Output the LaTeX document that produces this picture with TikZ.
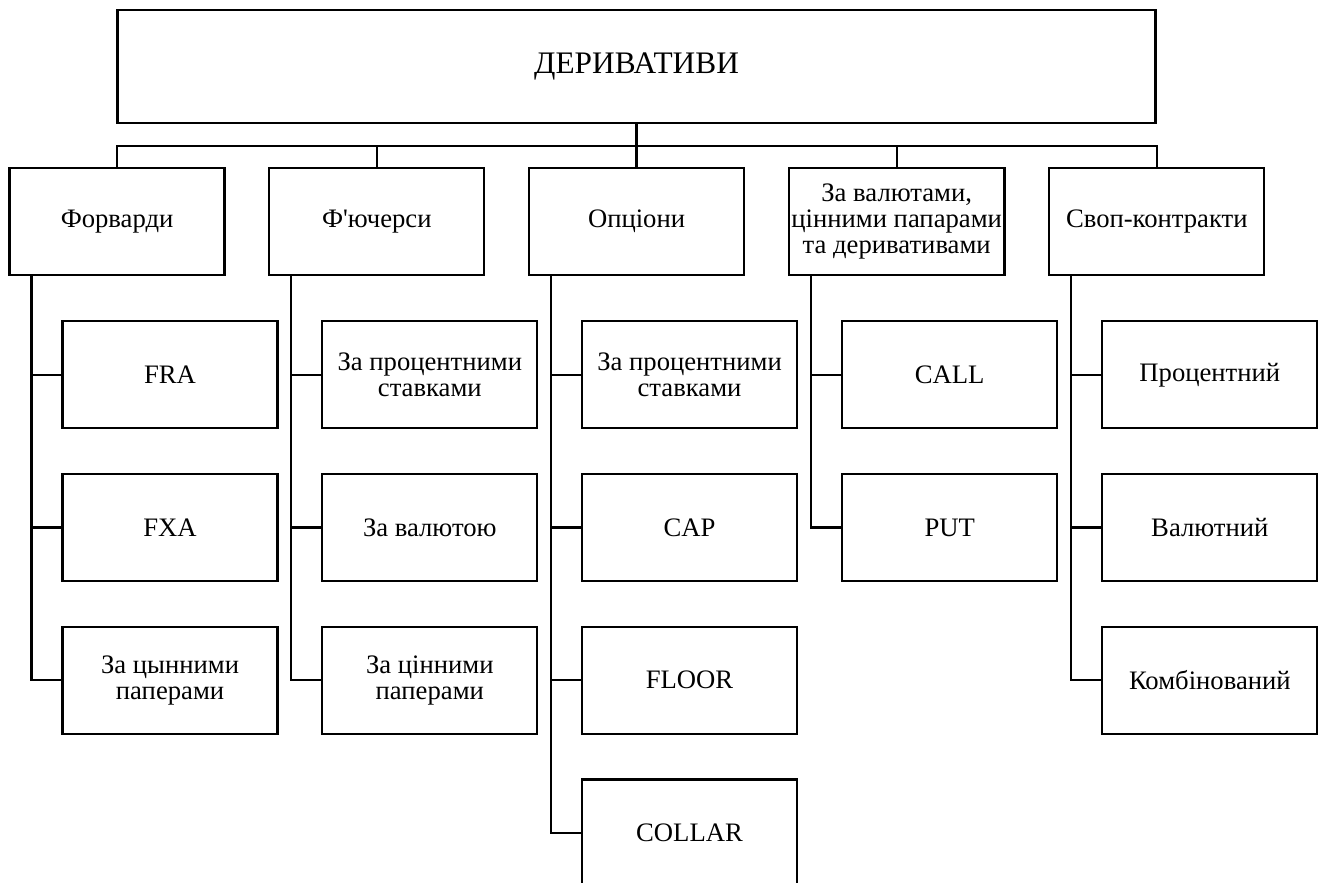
\documentclass[tikz,border=0pt]{standalone}
\usepackage{fontspec}
\setmainfont{Liberation Serif}[Ligatures=TeXOff]
\usetikzlibrary{positioning}

\begin{document}
\begin{tikzpicture}[
  box/.style={draw=black, line width=1.7pt, align=center, inner sep=2pt, font=\fontsize{20}{19.5}\selectfont},
  head/.style={box, minimum width=778.5pt, minimum height=84.75pt, font=\fontsize{23.5}{26}\selectfont},
  group/.style={box, minimum width=161.25pt, minimum height=80.25pt},
  item/.style={box, minimum width=161.25pt, minimum height=80.25pt},
  link/.style={line width=1.7pt}
]
\clip (0,0) rectangle (992.25pt,-661.5pt);

% Top
\node[head] (deriv) at (477.4pt,-49.9pt) {ДЕРИВАТИВИ};

% Row 2: kinds of derivatives
\node[group] (opt) at (477.4pt,-166.1pt) {Опціони};
\node[group, left=31.85pt of opt] (fut) {Ф'ючерси};
\node[group, left=31.85pt of fut] (fwd) {Форварди};
\node[group, right=31.85pt of opt] (cur) {За валютами,\\цінними папарами\\та деривативами};
\node[group, right=31.85pt of cur] (swap) {Своп-контракти};

% Row 3: forwards
\node[item, below=33pt of fwd, xshift=39.75pt] (fwd1) {FRA};
\node[item, below=32.6pt of fwd1] (fwd2) {FXA};
\node[item, below=32.6pt of fwd2] (fwd3) {За цынними\\паперами};

% futures
\node[item, below=33pt of fut, xshift=39.75pt] (fut1) {За процентними\\ставками};
\node[item, below=32.6pt of fut1] (fut2) {За валютою};
\node[item, below=32.6pt of fut2] (fut3) {За цінними\\паперами};

% options
\node[item, below=33pt of opt, xshift=39.75pt] (opt1) {За процентними\\ставками};
\node[item, below=32.6pt of opt1] (opt2) {CAP};
\node[item, below=32.6pt of opt2] (opt3) {FLOOR};
\node[item, below=32.6pt of opt3] (opt4) {COLLAR};

% currencies, securities
\node[item, below=33pt of cur, xshift=39.75pt] (cur1) {CALL};
\node[item, below=32.6pt of cur1] (cur2) {PUT};

% swaps
\node[item, below=33pt of swap, xshift=39.75pt] (swap1) {Процентний};
\node[item, below=32.6pt of swap1] (swap2) {Валютний};
\node[item, below=32.6pt of swap2] (swap3) {Комбінований};

% bus from the top box
\draw[link] (deriv) -- (opt);
\draw[link] (fwd.north) -- ++(0,15.75pt) -| (swap.north);
\foreach \g in {fut,cur}
  \draw[link] (\g.north) -- ++(0,15.75pt);

% trunks to the children
\foreach \g/\last in {fwd/fwd3,fut/fut3,opt/opt4,cur/cur2,swap/swap3} {
  \coordinate (\g-t) at ([xshift=17.25pt]\g.south west);
  \draw[link] (\g-t) |- (\last.west);
}
\foreach \c/\g in {fwd1/fwd,fwd2/fwd,fut1/fut,fut2/fut,opt1/opt,opt2/opt,opt3/opt,cur1/cur,swap1/swap,swap2/swap}
  \draw[link] (\g-t |- \c.west) -- (\c.west);
\end{tikzpicture}
\end{document}
